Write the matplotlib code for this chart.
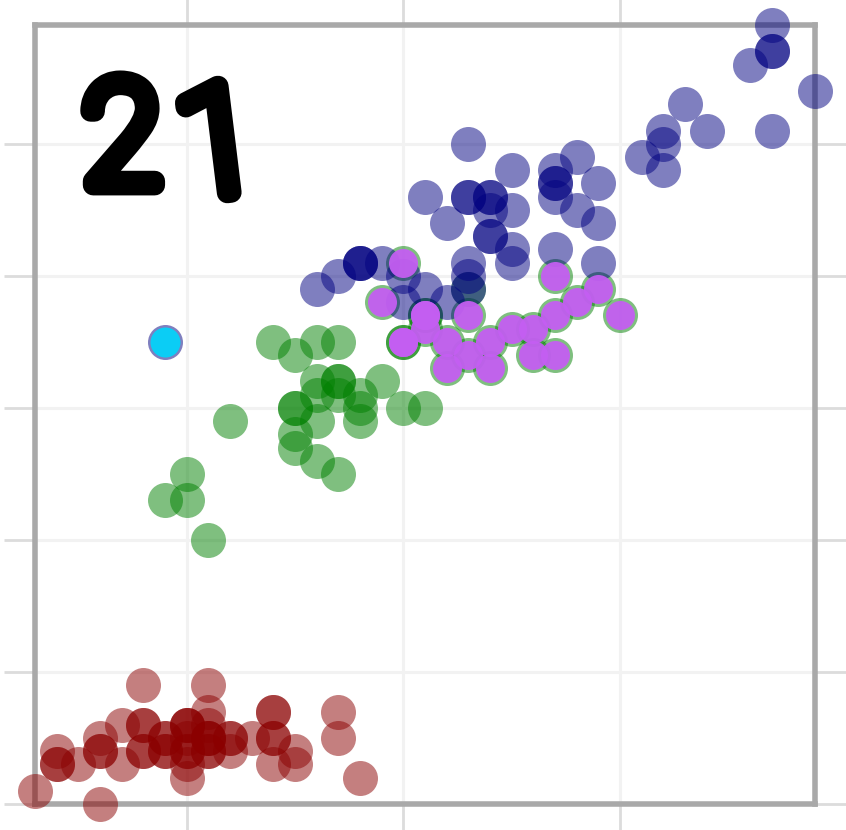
import matplotlib.pyplot as plt
import matplotlib.patheffects as pe

# iris: sepal length (x) vs petal length (y)
setosa_x = [5.1, 4.9, 4.7, 4.6, 5.0, 5.4, 4.6, 5.0, 4.4, 4.9, 5.4, 4.8, 4.8, 4.3, 5.8, 5.7, 5.4,
            5.1, 5.7, 5.1, 5.4, 5.1, 4.6, 5.1, 4.8, 5.0, 5.0, 5.2, 5.2, 4.7, 4.8, 5.4, 5.2, 5.5,
            4.9, 5.0, 5.5, 4.9, 4.4, 5.1, 5.0, 4.5, 4.4, 5.0, 5.1, 4.8, 5.1, 4.6, 5.3, 5.0]
setosa_y = [1.4, 1.4, 1.3, 1.5, 1.4, 1.7, 1.4, 1.5, 1.4, 1.5, 1.5, 1.6, 1.4, 1.1, 1.2, 1.5, 1.3,
            1.4, 1.7, 1.5, 1.7, 1.5, 1.0, 1.7, 1.9, 1.6, 1.6, 1.5, 1.4, 1.6, 1.6, 1.5, 1.5, 1.4,
            1.5, 1.2, 1.3, 1.4, 1.3, 1.5, 1.3, 1.3, 1.3, 1.6, 1.9, 1.4, 1.6, 1.4, 1.5, 1.4]

versicolor_x = [7.0, 6.4, 6.9, 5.5, 6.5, 5.7, 6.3, 4.9, 6.6, 5.2, 5.0, 5.9, 6.0, 6.1, 5.6, 6.7,
                5.6, 5.8, 6.2, 5.6, 5.9, 6.1, 6.3, 6.1, 6.4, 6.6, 6.8, 6.7, 6.0, 5.7, 5.5, 5.5,
                5.8, 6.0, 5.4, 6.0, 6.7, 6.3, 5.6, 5.5, 5.5, 6.1, 5.8, 5.0, 5.6, 5.7, 5.7, 6.2,
                5.1, 5.7]
versicolor_y = [4.7, 4.5, 4.9, 4.0, 4.6, 4.5, 4.7, 3.3, 4.6, 3.9, 3.5, 4.2, 4.0, 4.7, 3.6, 4.4,
                4.5, 4.1, 4.5, 3.9, 4.8, 4.0, 4.9, 4.7, 4.3, 4.4, 4.8, 5.0, 4.5, 3.5, 3.8, 3.7,
                3.9, 5.1, 4.5, 4.5, 4.7, 4.4, 4.1, 4.0, 4.4, 4.6, 4.0, 3.3, 4.2, 4.2, 4.2, 4.3,
                3.0, 4.1]

virginica_x = [6.3, 5.8, 7.1, 6.3, 6.5, 7.6, 4.9, 7.3, 6.7, 7.2, 6.5, 6.4, 6.8, 5.7, 5.8, 6.4,
               6.5, 7.7, 7.7, 6.0, 6.9, 5.6, 7.7, 6.3, 6.7, 7.2, 6.2, 6.1, 6.4, 7.2, 7.4, 7.9,
               6.4, 6.3, 6.1, 7.7, 6.3, 6.4, 6.0, 6.9, 6.7, 6.9, 5.8, 6.8, 6.7, 6.7, 6.3, 6.5,
               6.2, 5.9]
virginica_y = [6.0, 5.1, 5.9, 5.6, 5.8, 6.6, 4.5, 6.3, 5.8, 6.1, 5.1, 5.3, 5.5, 5.0, 5.1, 5.3,
               5.5, 6.7, 6.9, 5.0, 5.7, 4.9, 6.7, 4.9, 5.7, 6.0, 4.8, 4.9, 5.6, 5.8, 6.1, 6.4,
               5.6, 5.1, 5.6, 6.1, 5.6, 5.5, 4.8, 5.4, 5.6, 5.1, 5.1, 5.9, 5.7, 5.2, 5.0, 5.2,
               5.4, 5.1]

# highlighted points
picked_x = [7.0, 6.4, 6.9, 6.5, 6.3, 6.6, 6.1, 6.7, 6.2, 5.9, 6.1, 6.4, 6.6, 6.8, 6.7, 6.0,
            6.0, 6.0, 6.7, 6.3, 6.1, 6.2]
picked_y = [4.7, 4.5, 4.9, 4.6, 4.7, 4.6, 4.7, 4.4, 4.5, 4.8, 4.7, 4.3, 4.4, 4.8, 5.0, 4.5,
            5.1, 4.5, 4.7, 4.4, 4.6, 4.3]
odd_x = [4.9]
odd_y = [4.5]

W, H = 846, 830
fig = plt.figure(figsize=(W / 100, H / 100), dpi=100)
ax = fig.add_axes([35 / W, 1 - 804 / H, 780 / W, 779 / H])

big = 635
ax.scatter(setosa_x, setosa_y, s=big, color="darkred", alpha=0.5, linewidths=0,
           zorder=3, clip_on=False)
ax.scatter(versicolor_x, versicolor_y, s=big, color="green", alpha=0.5, linewidths=0,
           zorder=3, clip_on=False)
ax.scatter(virginica_x, virginica_y, s=big, color="navy", alpha=0.5, linewidths=0,
           zorder=3, clip_on=False)
ax.scatter(picked_x, picked_y, s=436, color="#c45ef2", alpha=0.95, linewidths=0,
           zorder=4, clip_on=False)
ax.scatter(odd_x, odd_y, s=467, color="#0bcdf5", linewidths=0, zorder=4, clip_on=False)

ax.set_xlim(4.3, 7.9)
ax.set_ylim(1.0, 6.9)
ax.set_xticks([5, 6, 7])
ax.set_yticks([1, 2, 3, 4, 5, 6])
ax.tick_params(direction="out", length=22, width=2, color="#dcdcdc",
               top=True, right=True, labelleft=False, labelbottom=False)
ax.grid(True, color="#f2f2f2", linewidth=2.2)
ax.set_axisbelow(True)
for sp in ax.spines.values():
    sp.set_color("darkgray")
    sp.set_linewidth(4)

# the scribbled "21"
stroke = [pe.withStroke(linewidth=15, foreground="black", capstyle="round",
                        joinstyle="round")]
fig.text(122 / W, 1 - 185 / H, "2", fontsize=104, family="Roboto", fontweight="light",
         ha="center", va="baseline", color="black", path_effects=stroke)
fig.text(219 / W, 1 - 198 / H, "1", fontsize=108, family="Roboto", fontweight="light",
         ha="center", va="baseline", rotation=7, color="black", path_effects=stroke)

fig.savefig("out.png", dpi=100)
